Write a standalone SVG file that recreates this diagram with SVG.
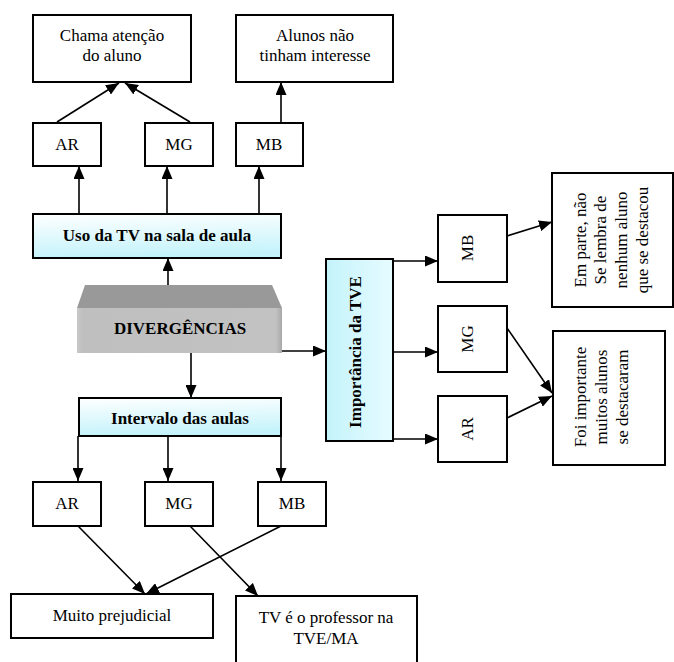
<svg xmlns="http://www.w3.org/2000/svg" width="674" height="662" viewBox="0 0 674 662">
  <defs>
    <marker id="arrow" viewBox="0 0 13 11" refX="13" refY="5.5" markerWidth="13" markerHeight="11" markerUnits="userSpaceOnUse" orient="auto">
      <path d="M0,0 L13,5.5 L0,11 z" fill="#000"/>
    </marker>
    <linearGradient id="cyanV" x1="0" y1="0" x2="0.15" y2="1">
      <stop offset="0" stop-color="#ffffff"/>
      <stop offset="1" stop-color="#c4f3fb"/>
    </linearGradient>
    <linearGradient id="cyanH" x1="0" y1="0" x2="1" y2="0">
      <stop offset="0" stop-color="#c4f3fb"/>
      <stop offset="1" stop-color="#e6fcff"/>
    </linearGradient>
    <linearGradient id="greyFront" x1="0" y1="0" x2="1" y2="0">
      <stop offset="0" stop-color="#c8c8c8"/>
      <stop offset="0.03" stop-color="#bfbfbf"/>
      <stop offset="0.97" stop-color="#c2c2c2"/>
      <stop offset="1" stop-color="#a8a8a8"/>
    </linearGradient>
  </defs>
  <style>
    .box { fill: #fff; stroke: #000; stroke-width: 2; }
    .cyan { fill: url(#cyanV); stroke: #000; stroke-width: 2; }
    .t { font-size: 17px; fill: #000; text-anchor: middle; }
    .b { font-weight: bold; }
    .edge { fill: none; stroke: #000; stroke-width: 1.6; marker-end: url(#arrow); }
  </style>

  <rect width="674" height="662" fill="#fff"/>

  <!-- connectors -->
  <g id="connectors">
    <line class="edge" x1="57" y1="122" x2="119" y2="83"/>
    <line class="edge" x1="190" y1="122" x2="125" y2="83"/>
    <line class="edge" x1="281" y1="122" x2="281" y2="82"/>
    <line class="edge" x1="79" y1="213" x2="79" y2="166"/>
    <line class="edge" x1="167" y1="213" x2="167" y2="166"/>
    <line class="edge" x1="259" y1="213" x2="259" y2="166"/>
    <line class="edge" x1="168" y1="285" x2="168" y2="258"/>
    <line class="edge" x1="282" y1="351" x2="326" y2="351"/>
    <line class="edge" x1="191" y1="353" x2="191" y2="398"/>
    <line class="edge" x1="78" y1="436" x2="78" y2="481"/>
    <line class="edge" x1="168" y1="436" x2="168" y2="481"/>
    <line class="edge" x1="281" y1="436" x2="281" y2="481"/>
    <line class="edge" x1="78" y1="526" x2="145" y2="594"/>
    <line class="edge" x1="281" y1="526" x2="146" y2="594"/>
    <line class="edge" x1="190" y1="526" x2="258" y2="596"/>
    <line class="edge" x1="393" y1="261" x2="438" y2="261"/>
    <line class="edge" x1="393" y1="352" x2="438" y2="352"/>
    <line class="edge" x1="393" y1="439" x2="438" y2="439"/>
    <line class="edge" x1="507" y1="236" x2="552" y2="222"/>
    <line class="edge" x1="507" y1="328" x2="552" y2="393"/>
    <line class="edge" x1="507" y1="418" x2="552" y2="396"/>
  </g>

  <g font-family="'Liberation Serif', 'DejaVu Serif', serif">
  <!-- upper branch -->
  <g id="chama">
    <rect class="box" x="33" y="15" width="158" height="67"/>
    <text class="t" x="112" y="41">Chama atenção</text>
    <text class="t" x="112" y="61">do aluno</text>
  </g>
  <g id="alunos">
    <rect class="box" x="236" y="15" width="157" height="67"/>
    <text class="t" x="315" y="41">Alunos não</text>
    <text class="t" x="315" y="61">tinham interesse</text>
  </g>
  <g id="top-ar">
    <rect class="box" x="33" y="123" width="68" height="43"/>
    <text class="t" x="67" y="150">AR</text>
  </g>
  <g id="top-mg">
    <rect class="box" x="145" y="123" width="68" height="43"/>
    <text class="t" x="179" y="150">MG</text>
  </g>
  <g id="top-mb">
    <rect class="box" x="236" y="123" width="67" height="43"/>
    <text class="t" x="269" y="150">MB</text>
  </g>
  <g id="uso">
    <rect class="cyan" x="33" y="214" width="248" height="44"/>
    <text class="t b" x="157" y="241">Uso da TV na sala de aula</text>
  </g>

  <!-- central bevelled block -->
  <g id="divergencias">
    <polygon points="85,285 272,285 282,308 77,308" fill="#999999"/>
    <rect x="77" y="308" width="205" height="45" fill="url(#greyFront)"/>
    <text class="t b" x="180" y="334" fill="#111">DIVERGÊNCIAS</text>
  </g>

  <!-- lower branch -->
  <g id="intervalo">
    <rect class="cyan" x="79" y="398" width="202" height="38"/>
    <text class="t b" x="180" y="424">Intervalo das aulas</text>
  </g>
  <g id="low-ar">
    <rect class="box" x="33" y="482" width="68" height="44"/>
    <text class="t" x="67" y="509">AR</text>
  </g>
  <g id="low-mg">
    <rect class="box" x="145" y="482" width="68" height="44"/>
    <text class="t" x="179" y="509">MG</text>
  </g>
  <g id="low-mb">
    <rect class="box" x="258" y="482" width="68" height="44"/>
    <text class="t" x="292" y="509">MB</text>
  </g>
  <g id="muito">
    <rect class="box" x="11" y="594" width="202" height="44"/>
    <text class="t" x="112" y="621">Muito prejudicial</text>
  </g>
  <g id="tv-professor">
    <path d="M236,663 L236,596 L417,596 L417,663" class="box"/>
    <text class="t" x="326" y="623">TV é o professor na</text>
    <text class="t" x="326" y="644">TVE/MA</text>
  </g>

  <!-- right branch -->
  <g id="importancia">
    <rect x="326" y="259" width="67" height="182" fill="url(#cyanH)" stroke="#000" stroke-width="2"/>
    <text class="t b" transform="translate(361,352) rotate(-90)">Importância da TVE</text>
  </g>
  <g id="right-mb">
    <rect class="box" x="438" y="215" width="69" height="67"/>
    <text class="t" transform="translate(473,248) rotate(-90)">MB</text>
  </g>
  <g id="right-mg">
    <rect class="box" x="438" y="306" width="69" height="66"/>
    <text class="t" transform="translate(473,339) rotate(-90)">MG</text>
  </g>
  <g id="right-ar">
    <rect class="box" x="438" y="396" width="69" height="66"/>
    <text class="t" transform="translate(473,429) rotate(-90)">AR</text>
  </g>
  <g id="em-parte">
    <rect class="box" x="552" y="173" width="121" height="134"/>
    <text class="t" transform="translate(586,240) rotate(-90)">Em parte, não</text>
    <text class="t" transform="translate(606,240) rotate(-90)">Se lembra de</text>
    <text class="t" transform="translate(627,240) rotate(-90)">nenhum  aluno</text>
    <text class="t" transform="translate(648,240) rotate(-90)">que se destacou</text>
  </g>
  <g id="foi-importante">
    <rect class="box" x="553" y="331" width="112" height="134"/>
    <text class="t" transform="translate(586,397) rotate(-90)">Foi  importante</text>
    <text class="t" transform="translate(607,397) rotate(-90)">muitos alunos</text>
    <text class="t" transform="translate(628,397) rotate(-90)">se destacaram</text>
  </g>
  </g>
</svg>
